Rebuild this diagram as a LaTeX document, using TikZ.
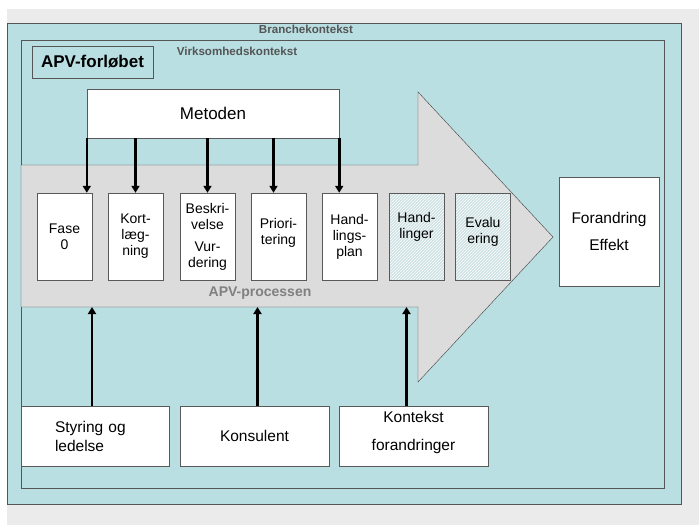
\documentclass[tikz,border=0pt]{standalone}
\usepackage{fontspec}
\setmainfont{Liberation Sans}
\usepackage{tikz}
\usetikzlibrary{arrows.meta,patterns}
\usepackage{xcolor}
\definecolor{baggrund}{HTML}{EBEBEB}
\definecolor{turkis}{HTML}{B9DFE2}
\definecolor{pilgraa}{HTML}{DCDCDC}
\definecolor{kant}{HTML}{555555}
\definecolor{skravur}{HTML}{CFE1E4}

\begin{document}
\begin{tikzpicture}[x=1pt,y=-1pt,>={Triangle[length=7pt,width=8pt]},
  font=\fontsize{14}{16}\selectfont,
  trin/.style={draw=black!65,fill=white,minimum width=55pt,minimum height=87pt,inner sep=0pt,align=center},
  senere/.style={trin,preaction={fill=skravur},pattern=north east lines,pattern color=white},
  kilde/.style={draw=black!65,fill=white,minimum height=60pt,inner sep=0pt,align=center,
    font=\fontsize{15.5}{19}\selectfont},
  kontekst/.style={text=kant,font=\fontsize{11.6}{13}\selectfont\bfseries},
  forbind/.style={->,line width=2.6pt}]
\useasboundingbox (0,0) rectangle (699,525);
\fill[white] (0,0) rectangle (699,525);
\fill[baggrund] (7,9) rectangle (699,525);
\draw[kant,fill=turkis] (7,23) rectangle (681,504);
\draw[kant] (21,40) rectangle (664,488);
\node[kontekst] (branche) at (306,29) {Branchekontekst};
\node[kontekst] (virksomhed) at (237,51) {Virksomhedskontekst};
\node[draw=kant,minimum width=121pt,minimum height=32pt,inner sep=0pt,
  font=\fontsize{17}{19}\selectfont\bfseries] (forloeb) at (92.5,62) {APV-forløbet};
\draw[black!75,fill=pilgraa] (21,165) -- (418,165) -- (418,92) -- (553,237)
   -- (418,382) -- (418,307) -- (21,307) -- cycle;
\coordinate (krop) at (21,307);
\node[text=black!50,font=\fontsize{14}{16}\selectfont\bfseries] (proces) at (260,293) {APV-processen};
\node[draw=black!65,fill=white,minimum width=252pt,minimum height=49pt,inner sep=0pt,
  font=\fontsize{17}{19}\selectfont] (metoden) at (213,113.5) {Metoden};
\node[trin] (fase) at (64.5,236.5) {Fase\\0};
\node[trin] (kort) at (135.5,236.5) {Kort-\\læg-\\ning};
\node[trin] (beskriv) at (207.5,236.5) {Beskri-\\velse\\[6pt]Vur-\\dering};
\node[trin] (prior) at (278.5,236.5) {Priori-\\tering\\[-6pt]};
\node[trin] (plan) at (349.5,236.5) {Hand-\\lings-\\plan};
\node[senere] (handl) at (416.5,236.5) {Hand-\\linger\\[6pt]};
\node[senere] (eval) at (483,236.5) {Evalu\\ering\\[-3pt]};
\node[draw=black!65,fill=white,minimum width=100pt,minimum height=109pt,inner sep=0pt,align=center,
  font=\fontsize{15.5}{27}\selectfont] (effekt) at (609,231.5) {Forandring\\Effekt};
\draw[forbind] (metoden.south west) -- (fase.north -| metoden.south west);
\draw[forbind] (metoden.south -| kort.north) -- (kort.north);
\draw[forbind] (metoden.south -| beskriv.north) -- (beskriv.north);
\draw[forbind] ([xshift=-5pt]metoden.south -| prior.north) -- ([xshift=-5pt]prior.north);
\draw[forbind] (metoden.south east) -- (plan.north -| metoden.south east);
\node[kilde,minimum width=148pt,text width=80pt,inner xsep=34pt,align=left] (styring) at (95,436) {Styring og\\ledelse};
\node[kilde,minimum width=149pt] (konsulent) at (254.5,436) {Konsulent};
\node[kilde,minimum width=149pt,font=\fontsize{15.5}{28}\selectfont] (kontekstforandr) at (413.5,436) {Kontekst\\forandringer\\[-18pt]};
\draw[forbind] ([xshift=-3pt]styring.north) -- ([xshift=-3pt]styring.north |- krop);
\draw[forbind] ([xshift=3pt]konsulent.north) -- ([xshift=3pt]konsulent.north |- krop);
\draw[forbind] ([xshift=-7pt]kontekstforandr.north) -- ([xshift=-7pt]kontekstforandr.north |- krop);
\end{tikzpicture}
\end{document}
